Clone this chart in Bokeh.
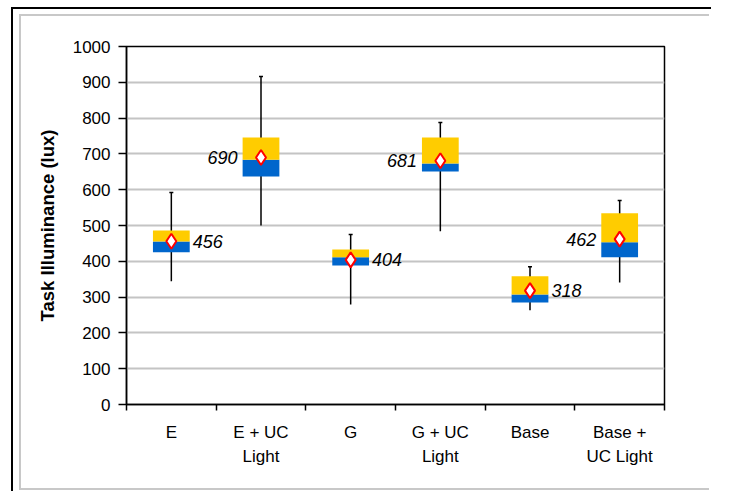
from bokeh.plotting import figure
from bokeh.models import Range1d, FixedTicker, ColumnDataSource
from bokeh.core.properties import value
from bokeh.embed import file_html
from bokeh.resources import INLINE

categories = ["E", "E + UC\nLight", "G", "G + UC\nLight", "Base", "Base +\nUC Light"]
q1 = [425, 637, 388, 651, 285, 411]
median = [455, 684, 411, 673, 307, 453]
q3 = [486, 746, 433, 746, 358, 534]
wmin = [344, 500, 279, 484, 263, 341]
wmax = [592, 916, 475, 788, 385, 570]
mean = [456, 690, 404, 681, 318, 462]
label_side = ["right", "left", "right", "left", "right", "left"]
y_ticks = list(range(0, 1001, 100))

FONT = "Liberation Sans"
BOX_W = 0.41

xs = [i + 0.5 for i in range(len(categories))]

p = figure(width=738, height=491, output_backend="svg", toolbar_location=None,
           x_range=Range1d(0, len(categories)), y_range=Range1d(0, 1000),
           min_border_left=126, min_border_right=74, min_border_top=46, min_border_bottom=87)
p.background_fill_color = "white"
p.border_fill_alpha = 0
p.outline_line_color = "black"
p.outline_line_width = 1.5

# decorative chart-area borders (black outer, gray inner) behind the transparent canvas border
p.styles = {
    "background-color": "white",
    "background-image": ("linear-gradient(black,black), linear-gradient(black,black), "
                         "linear-gradient(#c8c8c8,#c8c8c8), linear-gradient(#c8c8c8,#c8c8c8), "
                         "linear-gradient(#c8c8c8,#c8c8c8)"),
    "background-position": "11px 7px, 11px 7px, 19px 14px, 19px 14px, 19px 488px",
    "background-size": "2px 600px, 700px 2px, 2px 476px, 690px 2px, 690px 2px",
    "background-repeat": "no-repeat, no-repeat, no-repeat, no-repeat, no-repeat",
}

# grid
p.xgrid.visible = False
p.ygrid.ticker = FixedTicker(ticks=y_ticks)
p.ygrid.grid_line_color = "#c4c4c4"
p.ygrid.grid_line_width = 2

# y axis
p.yaxis.ticker = FixedTicker(ticks=y_ticks)
p.yaxis.axis_label = "Task Illuminance (lux)"
p.yaxis.axis_label_text_font = FONT
p.yaxis.axis_label_text_font_style = "bold"
p.yaxis.axis_label_text_font_size = "18.5px"
p.yaxis.axis_label_text_color = "black"
p.yaxis.axis_label_standoff = 12
p.yaxis.major_label_text_font = FONT
p.yaxis.major_label_text_font_size = "17px"
p.yaxis.major_label_text_color = "black"
p.yaxis.major_tick_in = 0
p.yaxis.major_tick_out = 8
p.yaxis.minor_tick_line_color = None
p.yaxis.axis_line_width = 1.5
p.yaxis.major_tick_line_width = 1.5
p.yaxis.major_label_standoff = 8

# x axis: labels at category centres, ticks at category boundaries
p.xaxis.ticker = FixedTicker(ticks=xs, minor_ticks=list(range(len(categories) + 1)))
p.xaxis.major_label_overrides = {x: c for x, c in zip(xs, categories)}
p.xaxis.major_tick_out = 0
p.xaxis.major_tick_in = 0
p.xaxis.minor_tick_out = 6
p.xaxis.minor_tick_in = 0
p.xaxis.minor_tick_line_width = 1.5
p.xaxis.axis_line_width = 1.5
p.xaxis.major_label_text_font = FONT
p.xaxis.major_label_text_font_size = "17px"
p.xaxis.major_label_text_color = "black"
p.xaxis.major_label_text_line_height = 1.3
p.xaxis.major_label_standoff = 12

src = ColumnDataSource(dict(x=xs, q1=q1, med=median, q3=q3, lo=wmin, hi=wmax, mean=mean))

# whiskers
p.segment(x0="x", y0="lo", x1="x", y1="hi", source=src, line_color="black", line_width=1.5)
p.scatter(x="x", y="hi", source=src, marker="dash", size=4, line_color="black", line_width=1.5)

# boxes
p.vbar(x="x", bottom="q1", top="med", width=BOX_W, source=src, fill_color="#0066CC", line_color=None)
p.vbar(x="x", bottom="med", top="q3", width=BOX_W, source=src, fill_color="#FFCC00", line_color=None)

# means
p.scatter(x="x", y="mean", source=src, marker="diamond", size=15, fill_color="white",
          line_color="#FF0000", line_width=2)

# mean labels
rx, ry, rt = [], [], []
lx, ly, lt = [], [], []
for x, m, side in zip(xs, mean, label_side):
    if side == "right":
        rx.append(x + BOX_W / 2); ry.append(m); rt.append(str(m))
    else:
        lx.append(x - BOX_W / 2); ly.append(m); lt.append(str(m))
p.text(x=rx, y=ry, text=rt, x_offset=3, text_align="left", text_baseline="middle",
       text_font=value(FONT), text_font_style="italic", text_font_size="18px", text_color="black")
p.text(x=lx, y=ly, text=lt, x_offset=-5, text_align="right", text_baseline="middle",
       text_font=value(FONT), text_font_style="italic", text_font_size="18px", text_color="black")

open("out.html", "w").write(file_html(p, INLINE))
